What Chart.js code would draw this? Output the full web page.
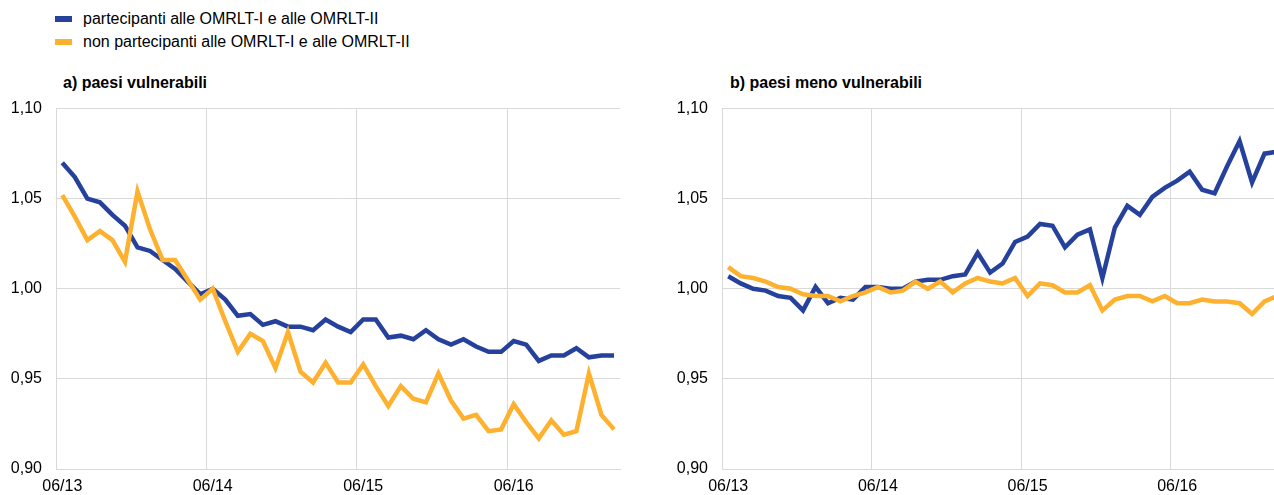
<!DOCTYPE html>
<html lang="it">
<head>
<meta charset="utf-8">
<title>OMRLT</title>
<script src="https://cdn.jsdelivr.net/npm/chart.js@4.4.1/dist/chart.umd.min.js"></script>
<style>
    html, body {
        margin: 0;
        padding: 0;
        background: #fff;
    }
    body {
        position: relative;
        width: 1274px;
        height: 495px;
        overflow: hidden;
        font-family: "Liberation Sans", Arial, sans-serif;
        color: #000;
    }
    .legend-row {
        position: absolute;
        left: 55px;
        height: 20px;
        line-height: 20px;
        font-size: 16px;
        white-space: nowrap;
    }
    .legend-row .swatch {
        position: absolute;
        left: 0;
        top: 7px;
        width: 17px;
        height: 6px;
    }
    .legend-row span.txt {
        position: absolute;
        left: 28px;
        top: 0;
    }
    .panel-title {
        position: absolute;
        top: 73px;
        font-size: 16px;
        font-weight: bold;
        line-height: 20px;
        white-space: nowrap;
    }
    canvas {
        position: absolute;
    }
</style>
</head>
<body>

<div class="legend-row" style="top:9px">
    <div class="swatch" style="background:#26419b"></div>
    <span class="txt">partecipanti alle OMRLT-I e alle OMRLT-II</span>
</div>
<div class="legend-row" style="top:32px">
    <div class="swatch" style="background:#fdb12f"></div>
    <span class="txt">non partecipanti alle OMRLT-I e alle OMRLT-II</span>
</div>

<div class="panel-title" style="left:63px">a) paesi vulnerabili</div>
<div class="panel-title" style="left:730px">b) paesi meno vulnerabili</div>

<canvas id="chartVulnerabili" width="622" height="410" style="left:0;top:85px;width:622px;height:410px"></canvas>
<canvas id="chartMenoVulnerabili" width="619" height="410" style="left:666px;top:85px;width:619px;height:410px"></canvas>

<script>
// mesi da 06/13 a 02/17
const months = [
    '06/13', '07/13', '08/13', '09/13', '10/13', '11/13', '12/13', '01/14', '02/14', '03/14', '04/14', '05/14',
    '06/14', '07/14', '08/14', '09/14', '10/14', '11/14', '12/14', '01/15', '02/15', '03/15', '04/15', '05/15',
    '06/15', '07/15', '08/15', '09/15', '10/15', '11/15', '12/15', '01/16', '02/16', '03/16', '04/16', '05/16',
    '06/16', '07/16', '08/16', '09/16', '10/16', '11/16', '12/16', '01/17', '02/17'
];

// a) paesi vulnerabili
const vulnPartecipanti = [
    1.070, 1.062, 1.050, 1.048, 1.041, 1.035, 1.023, 1.021, 1.016, 1.011, 1.004, 0.997,
    1.000, 0.994, 0.985, 0.986, 0.980, 0.982, 0.979, 0.979, 0.977, 0.983, 0.979, 0.976,
    0.983, 0.983, 0.973, 0.974, 0.972, 0.977, 0.972, 0.969, 0.972, 0.968, 0.965, 0.965,
    0.971, 0.969, 0.960, 0.963, 0.963, 0.967, 0.962, 0.963, 0.963
];
const vulnNonPartecipanti = [
    1.052, 1.040, 1.027, 1.032, 1.027, 1.015, 1.054, 1.033, 1.016, 1.016, 1.005, 0.994,
    1.000, 0.982, 0.965, 0.975, 0.971, 0.956, 0.976, 0.954, 0.948, 0.959, 0.948, 0.948,
    0.958, 0.946, 0.935, 0.946, 0.939, 0.937, 0.953, 0.938, 0.928, 0.930, 0.921, 0.922,
    0.936, 0.926, 0.917, 0.927, 0.919, 0.921, 0.953, 0.930, 0.922
];

// b) paesi meno vulnerabili
const menoPartecipanti = [
    1.007, 1.003, 1.000, 0.999, 0.996, 0.995, 0.988, 1.001, 0.992, 0.995, 0.994, 1.001,
    1.001, 1.000, 1.000, 1.004, 1.005, 1.005, 1.007, 1.008, 1.020, 1.009, 1.014, 1.026,
    1.029, 1.036, 1.035, 1.023, 1.030, 1.033, 1.006, 1.034, 1.046, 1.041, 1.051, 1.056,
    1.060, 1.065, 1.055, 1.053, 1.068, 1.082, 1.059, 1.075, 1.076
];
const menoNonPartecipanti = [
    1.012, 1.007, 1.006, 1.004, 1.001, 1.000, 0.997, 0.996, 0.996, 0.993, 0.996, 0.998,
    1.001, 0.998, 0.999, 1.004, 1.000, 1.004, 0.998, 1.003, 1.006, 1.004, 1.003, 1.006,
    0.996, 1.003, 1.002, 0.998, 0.998, 1.002, 0.988, 0.994, 0.996, 0.996, 0.993, 0.996,
    0.992, 0.992, 0.994, 0.993, 0.993, 0.992, 0.986, 0.993, 0.996
];

const yTicks = { min: 0.90, max: 1.10, step: 0.05 };

const BLUE = '#26419b';
const YELLOW = '#fdb12f';
const GRID = '#d9d9d9';
const FONT = { family: '"Liberation Sans", Arial, sans-serif', size: 16 };

function buildChart(canvasId, blueData, yellowData) {
    const ctx = document.getElementById(canvasId).getContext('2d');
    return new Chart(ctx, {
        type: 'line',
        data: {
            labels: months,
            datasets: [{
                label: 'non partecipanti alle OMRLT-I e alle OMRLT-II',
                data: yellowData,
                borderColor: YELLOW,
                borderWidth: 4.5,
                pointRadius: 0,
                tension: 0,
                order: 0
            }, {
                label: 'partecipanti alle OMRLT-I e alle OMRLT-II',
                data: blueData,
                borderColor: BLUE,
                borderWidth: 4.5,
                pointRadius: 0,
                tension: 0,
                order: 1
            }]
        },
        options: {
            responsive: false,
            animation: false,
            devicePixelRatio: 1,
            layout: { padding: { top: 12, left: 0, right: 0, bottom: 0 } },
            plugins: {
                legend: { display: false },
                tooltip: { enabled: false }
            },
            scales: {
                x: {
                    type: 'category',
                    offset: true,
                    grid: {
                        offset: true,
                        drawTicks: false,
                        lineWidth: 1,
                        // solo una linea verticale per ogni giugno
                        color: function(c) {
                            return (c.index > 0 && c.index % 12 === 0) ? GRID : 'rgba(0,0,0,0)';
                        }
                    },
                    border: { display: true, color: GRID, width: 1 },
                    ticks: {
                        autoSkip: false,
                        maxRotation: 0,
                        padding: 8,
                        color: '#000',
                        font: FONT,
                        callback: function(value, index) {
                            return index % 12 === 0 ? this.getLabelForValue(value) : '';
                        }
                    },
                    afterFit: function(scale) { scale.height = 26; }
                },
                y: {
                    min: yTicks.min,
                    max: yTicks.max,
                    grid: { color: GRID, lineWidth: 1, drawTicks: false },
                    border: { display: true, color: GRID, width: 1 },
                    ticks: {
                        stepSize: yTicks.step,
                        padding: 14,
                        color: '#000',
                        font: FONT,
                        callback: function(v) {
                            return v.toFixed(2).replace('.', ',');
                        }
                    },
                    afterFit: function(scale) { scale.width = 56; }
                }
            }
        }
    });
}

document.addEventListener('DOMContentLoaded', function() {
    buildChart('chartVulnerabili', vulnPartecipanti, vulnNonPartecipanti);
    buildChart('chartMenoVulnerabili', menoPartecipanti, menoNonPartecipanti);
});
</script>
</body>
</html>
